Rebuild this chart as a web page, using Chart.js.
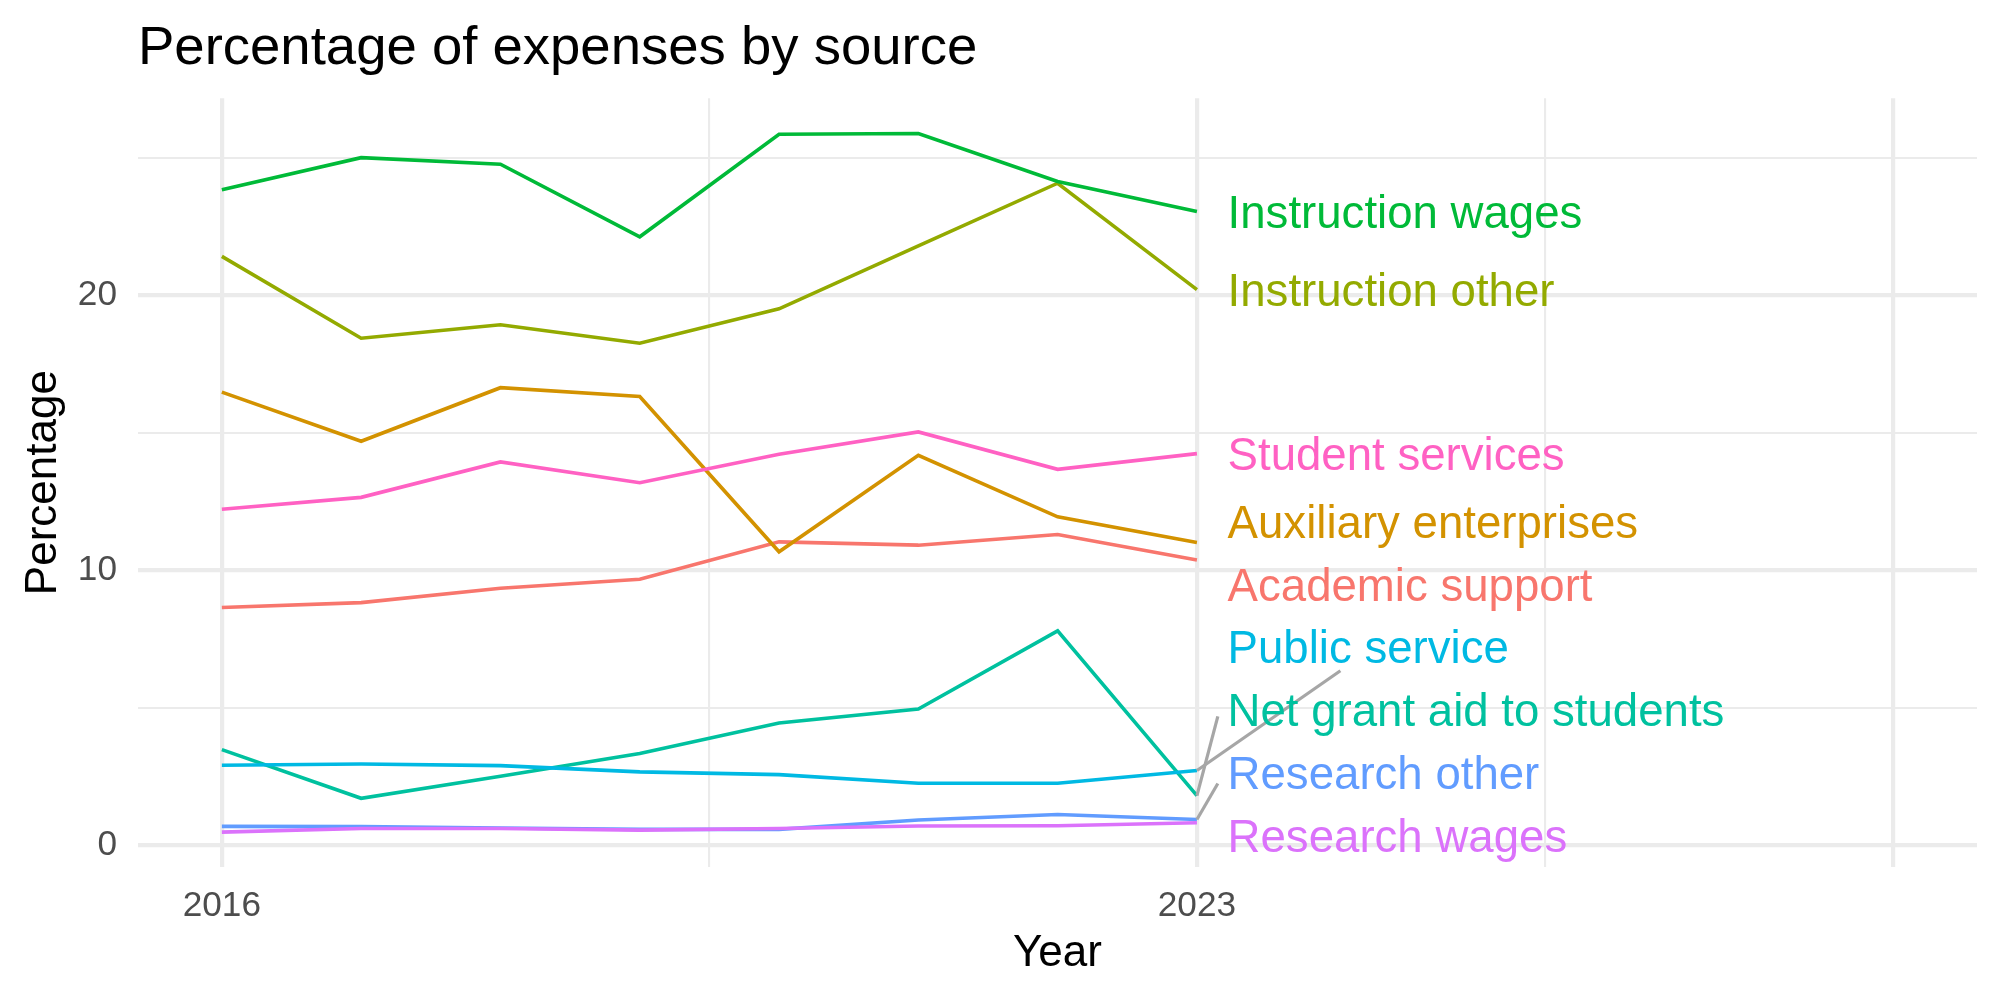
<!DOCTYPE html>
<html>
<head>
<meta charset="utf-8">
<script src="https://cdn.jsdelivr.net/npm/chart.js@4.4.0/dist/chart.umd.min.js"></script>
<style>
html,body{margin:0;padding:0;background:#ffffff;}
#wrap{width:2000px;height:1000px;}
</style>
</head>
<body>
<div id="wrap"><canvas id="c" width="2000" height="1000"></canvas></div>
<script>
// ---------- data ----------
const years = [2016, 2017, 2018, 2019, 2020, 2021, 2022, 2023];
const seriesNames = ["Academic support", "Auxiliary enterprises", "Instruction other", "Instruction wages",
  "Net grant aid to students", "Public service", "Research other", "Research wages", "Student services"];
const academicSupport      = [8.64, 8.82, 9.34, 9.67, 11.03, 10.91, 11.30, 10.37];
const auxiliaryEnterprises = [16.48, 14.69, 16.64, 16.32, 10.67, 14.18, 11.94, 11.01];
const instructionOther     = [21.42, 18.44, 18.93, 18.26, 19.51, 21.80, 24.08, 20.21];
const instructionWages     = [23.84, 25.01, 24.77, 22.13, 25.86, 25.89, 24.14, 23.05];
const netGrantAid          = [3.47, 1.70, 2.50, 3.33, 4.44, 4.95, 7.79, 1.80];
const publicService        = [2.90, 2.95, 2.89, 2.66, 2.56, 2.25, 2.25, 2.71];
const researchOther        = [0.68, 0.67, 0.62, 0.57, 0.57, 0.91, 1.11, 0.93];
const researchWages        = [0.47, 0.60, 0.60, 0.54, 0.60, 0.69, 0.70, 0.81];
const studentServices      = [12.22, 12.65, 13.94, 13.18, 14.22, 15.03, 13.67, 14.24];
const seriesValues = [academicSupport, auxiliaryEnterprises, instructionOther, instructionWages,
  netGrantAid, publicService, researchOther, researchWages, studentServices];

const yTickValues = [0, 5, 10, 15, 20, 25];
const yTickLabels = {0: "0", 10: "10", 20: "20"};
const xTickValues = [2016, 2019.5, 2023, 2025.5, 2028];
const xTickLabels = {2016: "2016", 2023: "2023"};
const xMajorTicks = [2016, 2023, 2028];

// ---------- styling / layout (not data) ----------
const colors = ["#F8766D", "#D39200", "#93AA00", "#00BA38", "#00C19F", "#00B9E3", "#619CFF", "#DB72FB", "#FF61C3"];
const FONT = '"Liberation Sans", Arial, Helvetica, sans-serif';
// repelled label anchors (data units): text left edge year, label centre level
const labelYear = 2023.22;
const labelLevels = [9.32, 11.64, 20.06, 22.90, 4.80, 7.07, 2.49, 0.22, 14.09];
// leader segment end points (data units), null = no segment
const segmentEnds = [null, null, null, null, [2023.15, 4.68], [2024.03, 6.34], [2023.15, 2.24], null, null];

const datasets = seriesNames.map((name, i) => ({
  label: name,
  data: years.map((yr, j) => ({x: yr, y: seriesValues[i][j]})),
  borderColor: colors[i],
  backgroundColor: colors[i],
  borderWidth: 3.6,
  pointRadius: 0,
  tension: 0,
  fill: false,
  order: seriesNames.length - 1 - i
}));

const endLabels = {
  id: 'endLabels',
  afterDatasetsDraw(chart) {
    const {ctx, scales: {x, y}} = chart;
    ctx.save();
    ctx.strokeStyle = '#A6A6A6';
    ctx.lineWidth = 3.2;
    ctx.lineCap = 'butt';
    segmentEnds.forEach((end, i) => {
      if (!end) return;
      const vals = seriesValues[i];
      const x0 = x.getPixelForValue(years[years.length - 1]);
      const y0 = y.getPixelForValue(vals[vals.length - 1]);
      ctx.beginPath();
      ctx.moveTo(x0, y0);
      ctx.lineTo(x.getPixelForValue(end[0]), y.getPixelForValue(end[1]));
      ctx.stroke();
    });
    ctx.font = '45.6px ' + FONT;
    ctx.textAlign = 'left';
    ctx.textBaseline = 'middle';
    seriesNames.forEach((name, i) => {
      ctx.fillStyle = colors[i];
      ctx.fillText(name, x.getPixelForValue(labelYear), y.getPixelForValue(labelLevels[i]));
    });
    ctx.restore();
  }
};

new Chart(document.getElementById('c'), {
  type: 'line',
  data: {datasets},
  plugins: [endLabels],
  options: {
    responsive: false,
    devicePixelRatio: 1,
    animation: false,
    layout: {padding: {left: 0, right: 23, top: 0, bottom: 0}},
    plugins: {
      legend: {display: false},
      tooltip: {enabled: false},
      title: {
        display: true,
        text: 'Percentage of expenses by source',
        align: 'start',
        fullSize: false,
        color: '#000000',
        font: {family: FONT, size: 54.5, weight: 'normal', lineHeight: 1.2},
        padding: {top: 16, bottom: 16.9}
      }
    },
    scales: {
      x: {
        type: 'linear',
        min: 2015.398,
        max: 2028.6,
        afterBuildTicks: s => { s.ticks = xTickValues.map(v => ({value: v})); },
        afterFit: s => { s.height = 133; },
        ticks: {
          autoSkip: false, maxRotation: 0, minRotation: 0,
          padding: 18,
          color: '#4D4D4D',
          font: {family: FONT, size: 35.2},
          callback: v => (xTickLabels[v] !== undefined ? xTickLabels[v] : '')
        },
        grid: {
          drawTicks: false,
          color: '#EBEBEB',
          lineWidth: c => (c.tick && xMajorTicks.includes(c.tick.value)) ? 4.2 : 2.1
        },
        border: {display: false},
        title: {
          display: true, text: 'Year', color: '#000000',
          font: {family: FONT, size: 44, lineHeight: 1.2},
          padding: {top: 0, bottom: 20}
        }
      },
      y: {
        type: 'linear',
        min: -0.8,
        max: 27.17,
        afterBuildTicks: s => { s.ticks = yTickValues.map(v => ({value: v})); },
        afterFit: s => { s.width = 138; },
        ticks: {
          padding: 21,
          color: '#4D4D4D',
          font: {family: FONT, size: 35.2},
          callback: v => (yTickLabels[v] !== undefined ? yTickLabels[v] : '')
        },
        grid: {
          drawTicks: false,
          color: '#EBEBEB',
          lineWidth: c => (c.tick && yTickLabels[c.tick.value] !== undefined) ? 4.2 : 2.1
        },
        border: {display: false},
        title: {
          display: true, text: 'Percentage', color: '#000000',
          font: {family: FONT, size: 44, lineHeight: 1.2},
          padding: {top: 17, bottom: 0}
        }
      }
    }
  }
});
</script>
</body>
</html>
